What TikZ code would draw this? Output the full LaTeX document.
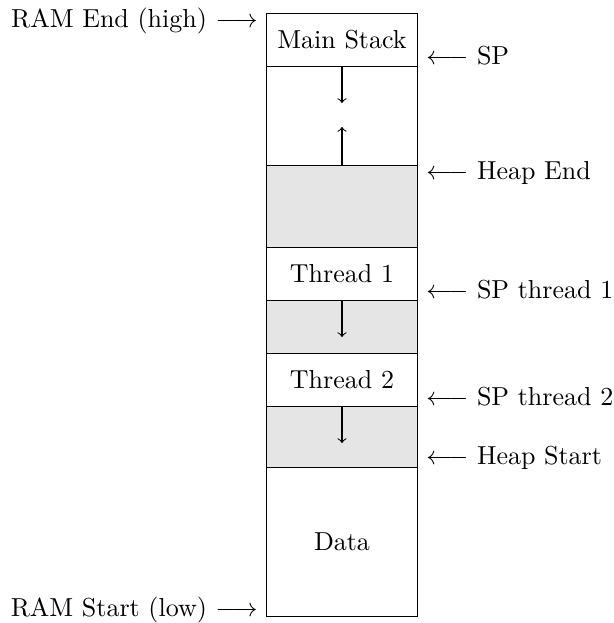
\documentclass[tikz,border=0pt]{standalone}
\usetikzlibrary{positioning}
\begin{document}
\begin{tikzpicture}[x=0.3846pt,y=-0.3846pt,
  cell/.style={draw, line width=0.4pt, minimum width=150.6*0.3846pt, inner sep=0pt, anchor=north},
  graycell/.style={cell, fill=gray!20},
  growarrow/.style={->, line width=0.4pt},
  lbl/.style={inner sep=3.33pt}
]
\useasboundingbox (0,0) rectangle (613,623);
% memory column
\node[cell, minimum height=52.4*0.3846pt] (main) at (342,13.3) {Main Stack};
\node[cell, minimum height=99.6*0.3846pt] (free) at (342,65.7) {};
\node[graycell, minimum height=81.4*0.3846pt] (heap) at (342,165.3) {};
\node[cell, minimum height=53.3*0.3846pt] (t1) at (342,246.7) {Thread 1};
\node[graycell, minimum height=53.3*0.3846pt] (t1s) at (342,300) {};
\node[cell, minimum height=52.2*0.3846pt] (t2) at (342,353.3) {Thread 2};
\node[graycell, minimum height=61.2*0.3846pt] (t2s) at (342,405.5) {};
\node[cell, minimum height=149*0.3846pt] (data) at (342,466.7) {Data};
% growth arrows
\coordinate (mdown) at (342,103);
\coordinate (hup) at (342,127);
\coordinate (t1down) at (342,337);
\coordinate (t2down) at (342,443);
\draw[growarrow] (main.south) -- (mdown);
\draw[growarrow] (heap.north) -- (hup);
\draw[growarrow] (t1s.north) -- (t1down);
\draw[growarrow] (t2s.north) -- (t2down);
% left labels
\node[lbl, anchor=base east] (ramend) at (266.7,27.2) {RAM End (high) $\longrightarrow$};
\node[lbl, anchor=base east] (ramstart) at (266.7,616.5) {RAM Start (low) $\longrightarrow$};
% right labels
\node[lbl, anchor=base west] (sp) at (417.3,64.8) {$\longleftarrow$ SP};
\node[lbl, anchor=base west] (heapend) at (417.3,179.8) {$\longleftarrow$ Heap End};
\node[lbl, anchor=base west] (spt1) at (417.3,298.8) {$\longleftarrow$ SP thread 1};
\node[lbl, anchor=base west] (spt2) at (417.3,405.5) {$\longleftarrow$ SP thread 2};
\node[lbl, anchor=base west] (heapstart) at (417.3,464.8) {$\longleftarrow$ Heap Start};
\end{tikzpicture}
\end{document}
